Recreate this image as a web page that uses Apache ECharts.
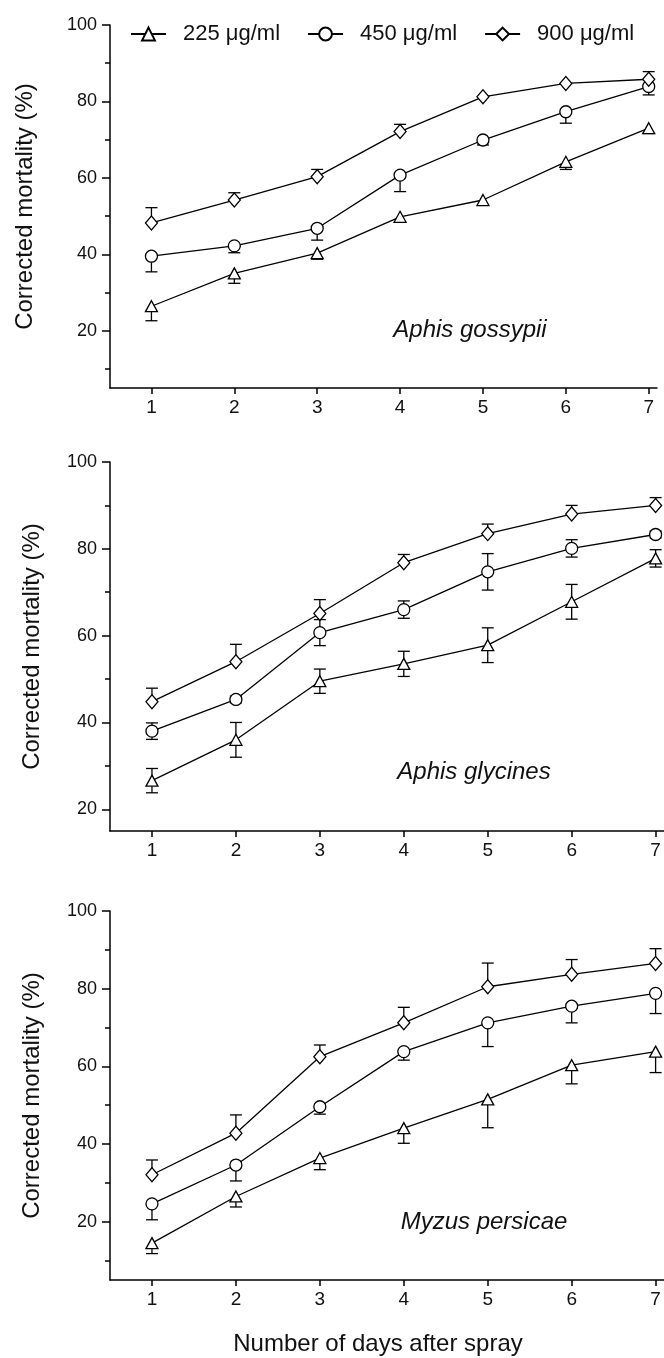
<!DOCTYPE html>
<html>
<head>
<meta charset="utf-8">
<title>Corrected mortality</title>
<script src="https://cdn.jsdelivr.net/npm/echarts@6/dist/echarts.min.js"></script>
<style>
  html, body { margin: 0; padding: 0; background: #fff; overflow: hidden; }
  #chart { width: 664px; height: 1358px; }
</style>
</head>
<body>
<div id="chart"></div>
<script>
const days = [1, 2, 3, 4, 5, 6, 7]
const doses = ['225 μg/ml', '450 μg/ml', '900 μg/ml']
const species = ['Aphis gossypii', 'Aphis glycines', 'Myzus persicae']
const yTicks = [20, 40, 60, 80, 100]
const yMinorTicks = [10, 30, 50, 70, 90]

// Aphis gossypii
const gossypii225 = [26.4, 35.0, 40.3, 49.8, 54.2, 64.2, 73.0]
const gossypii450 = [39.5, 42.2, 46.8, 60.7, 69.9, 77.3, 83.9]
const gossypii900 = [48.2, 54.2, 60.3, 72.1, 81.2, 84.7, 85.8]
const gossypii225Err = [3.8, 2.6, 1.6, 0, 0, 2.0, 1.4]
const gossypii450Err = [4.1, 1.8, 3.1, 4.3, 1.3, 3.0, 2.2]
const gossypii900Err = [4.0, 1.9, 1.9, 1.9, 0, 0, 2.0]

// Aphis glycines
const glycines225 = [26.6, 36.0, 49.5, 53.5, 57.8, 67.8, 77.8]
const glycines450 = [38.0, 45.3, 60.7, 66.0, 74.7, 80.1, 83.3]
const glycines900 = [44.8, 54.0, 65.1, 76.8, 83.5, 88.0, 90.0]
const glycines225Err = [2.8, 4.0, 2.8, 2.9, 4.0, 4.0, 2.0]
const glycines450Err = [1.9, 0.8, 3.0, 2.0, 4.2, 2.0, 0.8]
const glycines900Err = [3.1, 4.0, 3.2, 1.9, 2.2, 2.0, 1.8]

// Myzus persicae
const persicae225 = [14.5, 26.5, 36.4, 44.1, 51.5, 60.3, 63.8]
const persicae450 = [24.6, 34.6, 49.6, 63.8, 71.2, 75.5, 78.8]
const persicae900 = [32.1, 42.8, 62.5, 71.2, 80.5, 83.7, 86.5]
const persicae225Err = [2.7, 2.7, 3.0, 3.9, 7.3, 4.8, 5.4]
const persicae450Err = [4.1, 4.1, 1.9, 2.2, 6.1, 4.3, 5.2]
const persicae900Err = [3.8, 4.7, 3.0, 4.0, 6.1, 3.8, 3.8]

const font = '"Liberation Sans", Arial, sans-serif'
const symbols = ['triangle', 'circle', 'diamond']
const symbolSizes = [[12, 11], 12, [12, 14]]

const panels = [
  {grid: {left: 110, top: 25, width: 547, height: 363}, yMin: 5, nameGap: 73,
    mean: [gossypii225, gossypii450, gossypii900], err: [gossypii225Err, gossypii450Err, gossypii900Err],
    dir: ['down', 'down', 'up'], label: [470, 330]},
  {grid: {left: 110, top: 462, width: 554, height: 369}, yMin: 15, nameGap: 66,
    mean: [glycines225, glycines450, glycines900], err: [glycines225Err, glycines450Err, glycines900Err],
    dir: ['both', 'both', 'up'], label: [474, 772]},
  {grid: {left: 110, top: 911, width: 554, height: 369}, yMin: 5, nameGap: 66,
    mean: [persicae225, persicae450, persicae900], err: [persicae225Err, persicae450Err, persicae900Err],
    dir: ['down', 'down', 'up'], label: [484, 1222]}
]

const axisLine = {lineStyle: {color: '#000', width: 1.5}}

function renderErr(params, api) {
  const x = api.value(0), y = api.value(1), lo = api.value(2), hi = api.value(3)
  const p = api.coord([x, y]), pHi = api.coord([x, hi]), pLo = api.coord([x, lo])
  const w = 6
  const style = {stroke: '#000', lineWidth: 1.3}
  const children = [{type: 'line', shape: {x1: p[0], y1: pHi[1], x2: p[0], y2: pLo[1]}, style}]
  if (hi > y) children.push({type: 'line', shape: {x1: p[0] - w, y1: pHi[1], x2: p[0] + w, y2: pHi[1]}, style})
  if (lo < y) children.push({type: 'line', shape: {x1: p[0] - w, y1: pLo[1], x2: p[0] + w, y2: pLo[1]}, style})
  return {type: 'group', children}
}

const grid = [], xAxis = [], yAxis = [], series = [], graphic = []

panels.forEach((pn, i) => {
  grid.push(pn.grid)
  xAxis.push({
    type: 'value', gridIndex: i, min: 0.5, max: 7.1,
    axisLine, splitLine: {show: false},
    axisTick: {customValues: days, length: 6, lineStyle: {color: '#000', width: 1.5}},
    axisLabel: {customValues: days, color: '#111', fontSize: 19, fontFamily: font, margin: 10}
  })
  yAxis.push({
    type: 'value', gridIndex: i, min: pn.yMin, max: 100, position: 'left',
    axisLine, splitLine: {show: false},
    axisTick: {customValues: yTicks, length: 8, lineStyle: {color: '#000', width: 1.5}},
    axisLabel: {customValues: yTicks, color: '#111', fontSize: 18, fontFamily: font, margin: 13},
    name: 'Corrected mortality (%)', nameLocation: 'middle', nameGap: pn.nameGap,
    nameTextStyle: {fontSize: 24, color: '#111', fontFamily: font}
  })
  yAxis.push({
    type: 'value', gridIndex: i, min: pn.yMin, max: 100, position: 'left',
    axisLine: {show: false}, splitLine: {show: false}, axisLabel: {show: false},
    axisTick: {customValues: yMinorTicks.filter(v => v > pn.yMin), length: 5, lineStyle: {color: '#000', width: 1.5}}
  })
  pn.mean.forEach((vals, k) => {
    series.push({
      name: doses[k], type: 'line', xAxisIndex: i, yAxisIndex: i * 2, z: 3,
      data: days.map((d, j) => [d, vals[j]]),
      symbol: symbols[k], symbolSize: symbolSizes[k], showAllSymbol: true,
      lineStyle: {color: '#000', width: 1.3},
      itemStyle: {color: '#fff', borderColor: '#000', borderWidth: 1.3},
      emphasis: {disabled: true}
    })
    const e = pn.err[k], dir = pn.dir[k]
    series.push({
      name: 'err' + i + k, type: 'custom', xAxisIndex: i, yAxisIndex: i * 2, z: 2, silent: true,
      renderItem: renderErr,
      data: days.map((d, j) => [d, vals[j],
        dir === 'up' ? vals[j] : vals[j] - e[j],
        dir === 'down' ? vals[j] : vals[j] + e[j]])
    })
  })
  graphic.push({
    type: 'text', x: pn.label[0], y: pn.label[1],
    style: {text: species[i], fontSize: 24, fontStyle: 'italic', fontFamily: font, fill: '#111',
      align: 'center', verticalAlign: 'middle', textAlign: 'center', textVerticalAlign: 'middle'}
  })
})

graphic.push({
  type: 'text', x: 378, y: 1344,
  style: {text: 'Number of days after spray', fontSize: 24, fontFamily: font, fill: '#111',
    align: 'center', verticalAlign: 'middle', textAlign: 'center', textVerticalAlign: 'middle'}
})

const myChart = echarts.init(document.getElementById('chart'))
myChart.setOption({
  animation: false,
  backgroundColor: '#fff',
  legend: {
    data: doses, left: 125, top: 18, itemWidth: 35, itemHeight: 16, itemGap: 27,
    selectedMode: false,
    textStyle: {fontSize: 22, color: '#111', fontFamily: font, width: 108, padding: [0, 0, 0, 12]}
  },
  grid, xAxis, yAxis, series, graphic
})
</script>
</body>
</html>
